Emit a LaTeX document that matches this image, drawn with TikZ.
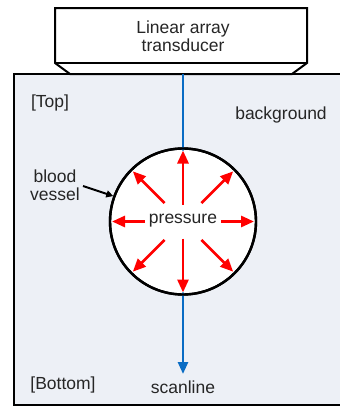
\documentclass[tikz,border=0pt]{standalone}
\usepackage{fontspec}
\setmainfont{Liberation Sans}
\usetikzlibrary{arrows.meta,calc}
\definecolor{bgfill}{HTML}{EDF0F6}
\definecolor{scanblue}{HTML}{0A6CC4}
\definecolor{pred}{HTML}{FF0000}
\tikzset{
  lbl/.style={font=\fontsize{17.5}{18.5}\selectfont, text=black!85, inner sep=0pt, align=center},
  parrow/.style={draw=pred, line width=2.8pt, -{Triangle[length=13pt,width=11pt]}},
}
\begin{document}
\begin{tikzpicture}[x=1pt,y=-1pt]
\useasboundingbox (0,0) rectangle (340,407);
\clip (0,0) rectangle (340,407);
% main box
\path[fill=bgfill] (14,74) rectangle (350,405);
\draw[line width=2pt] (350,74) -- (14,74) -- (14,405) -- (350,405);
% transducer
\draw[line width=2pt, fill=white, line join=miter] (55,8) -- (307,8) -- (307,63) -- (292,74) -- (70,74) -- (55,63) -- cycle;
\draw[line width=2pt] (55,63) -- (307,63);
\node[lbl] (tr) at (183,36) {Linear array\\transducer};
% vessel
\coordinate (c) at (183,221.5);
\node[circle, draw, line width=2.4pt, fill=white, minimum size=146pt, inner sep=0pt] (vessel) at (c) {};
% scanline
\coordinate (st) at (183,74);
\coordinate (se) at (183,374);
\draw[scanblue, line width=2.6pt, -{Triangle[length=12pt,width=10pt]}] (st) -- (se);
\fill[white] (c) circle (71pt);
\node[circle, draw, line width=2.4pt, minimum size=146pt, inner sep=0pt] at (c) {};
% pressure arrows
\node[lbl, inner sep=1pt] (p) at (183,221) {pressure};
\foreach \a/\r in {0/38, 180/38, 90/17, 270/17, 45/26, 135/26, 225/26, 315/26} {
  \draw[parrow] ($(c)+(\a:\r)$) -- ($(c)+(\a:71)$);
}
% labels
\node[lbl] (top) at (50,103) {[Top]};
\node[lbl] (bg) at (281,115) {background};
\node[lbl] (bv) at (55,185) {blood\\vessel};
\node[lbl] (bot) at (63,385) {[Bottom]};
\node[lbl] (sl) at (183,387) {scanline};
\draw[line width=2pt, -{Triangle[length=7pt,width=7pt]}] (83,186) -- (vessel.160);
\end{tikzpicture}
\end{document}
